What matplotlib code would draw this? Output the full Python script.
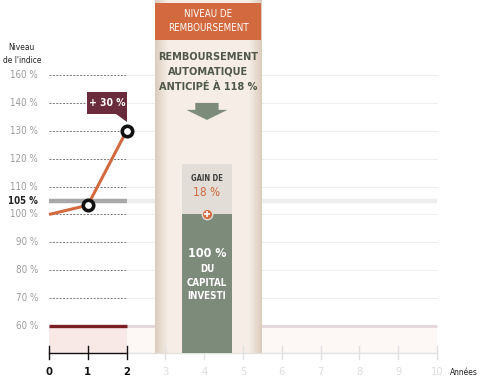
import numpy as np
import matplotlib
matplotlib.use("Agg")
import matplotlib.pyplot as plt
from matplotlib.patches import Rectangle, Polygon

plt.rcParams['font.family'] = ['DejaVu Sans']
plt.rcParams['font.stretch'] = 'condensed'

# data
years = [0, 1, 2]
index_levels = [100, 103.3, 130]
grid_levels = [70, 80, 90, 100, 110, 120, 130, 140, 160]
grid_labels = ['70 %', '80 %', '90 %', '100 %', '110 %', '120 %', '130 %', '140 %', '160 %']
barrier = 60
threshold = 105
early_redemption = 118
capital = 100
gain = early_redemption - capital
all_years = list(range(0, 11))

ORANGE = '#D2693F'
MAROON = '#6A2B3C'
GREEN = '#7D8B7A'
DARKGREEN = '#4E5748'


def pos(v):
    # the axis skips 150 %: 160 % sits one step above 140 %
    return v if v <= 150 else v - 10


fig = plt.figure(figsize=(4.89, 3.79), dpi=100)
ax = fig.add_axes([0, 0, 1, 1])
ax.set_xlim(-1.263, 11.34)
ax.set_ylim(41.0, 176.9)
ax.axis('off')
y_bot = 50.4

# beige band (redemption period)
band_x0, band_x1 = 2.73, 5.47
grad = np.linspace(0, 1, 200)
shade = np.minimum(grad, 1 - grad)
shade = np.clip(shade / 0.12, 0, 1)
c_edge = np.array([0.86, 0.80, 0.74])
c_mid = np.array([0.965, 0.935, 0.905])
img = c_edge[None, :] * (1 - shade[:, None]) + c_mid[None, :] * shade[:, None]
ax.imshow(img[None, :, :], extent=[band_x0, band_x1, y_bot, 176.9],
          aspect='auto', zorder=1)

# pink zone below barrier
ax.add_patch(Rectangle((0, y_bot), 2, barrier - y_bot, color='#F8E8E6', lw=0, zorder=0.5))
ax.add_patch(Rectangle((2, y_bot), 8, barrier - y_bot, color='#FDF7F6', lw=0, zorder=0.5))

# grid lines
for lv, lab in zip(grid_levels, grid_labels):
    p = pos(lv)
    ax.plot([0, 2], [p, p], color='#777777', lw=0.7, ls=(0, (2, 1.5)), zorder=2)
    ax.plot([2, 10], [p, p], color='#EEEEEE', lw=0.7, zorder=0.8)
    ax.text(-0.28, p, lab, ha='right', va='center', fontsize=7, color='#9A9A9A')

# threshold and barrier
ax.plot([0, 2], [threshold, threshold], color='#A8A8A8', lw=3.2, solid_capstyle='butt', zorder=2)
ax.plot([2, 10], [threshold, threshold], color='#EDEDED', lw=3.2, solid_capstyle='butt', zorder=0.8)
ax.text(-0.28, threshold, '105 %', ha='right', va='center', fontsize=7,
        color='#222222', fontweight='bold')
ax.plot([0, 2], [barrier, barrier], color='#7A1E24', lw=2.4, solid_capstyle='butt', zorder=2)
ax.plot([2, 10], [barrier, barrier], color='#E3D6D8', lw=2.0, solid_capstyle='butt', zorder=0.8)
ax.text(-0.28, barrier, '60 %', ha='right', va='center', fontsize=7, color='#9A9A9A')

ax.text(-0.7, 157.5, 'Niveau\nde l\'indice', ha='center', va='center', fontsize=6,
        color='#222222', linespacing=1.5)

# x axis
ax.plot([0, 2], [y_bot, y_bot], color='#111111', lw=1.0, zorder=3)
ax.plot([2, 10], [y_bot, y_bot], color='#E2E2E2', lw=1.0, zorder=3)
for yr in all_years:
    dark = yr <= 2
    ax.plot([yr, yr], [y_bot - 2.3, y_bot + 2.3], color='#111111' if dark else '#E0E0E0',
            lw=1.0, zorder=3)
    ax.text(yr, y_bot - 7, str(yr), ha='center', va='center', fontsize=8,
            fontweight='bold' if dark else 'normal',
            color='#111111' if dark else '#DDDDDD')
ax.text(10.7, y_bot - 7, 'Années', ha='center', va='center', fontsize=6, color='#222222')

# header box
cx = (band_x0 + band_x1) / 2
ax.add_patch(Rectangle((band_x0, 162.6), band_x1 - band_x0, 13.4, color=ORANGE, lw=0, zorder=4))
ax.text(cx, 169.3, 'NIVEAU DE\nREMBOURSEMENT', ha='center', va='center',
        fontsize=7, color='white', linespacing=1.55, zorder=5)
ax.text(cx, 151.1, 'REMBOURSEMENT\nAUTOMATIQUE\nANTICIPÉ À 118 %',
        ha='center', va='center', fontsize=7.8, color=DARKGREEN, fontweight='bold',
        linespacing=1.65, zorder=5)

# arrow
bx = 4.07
ax.add_patch(Polygon([[bx - 0.30, 140.0], [bx + 0.30, 140.0], [bx + 0.30, 137.5],
                      [bx + 0.53, 137.5], [bx, 133.9], [bx - 0.53, 137.5],
                      [bx - 0.30, 137.5]], closed=True, color=GREEN, lw=0, zorder=4))

# gain box and capital bar
bw = 1.27
ax.add_patch(Rectangle((bx - bw / 2, capital), bw, gain, color='#E2DDD7', lw=0, zorder=4))
ax.add_patch(Rectangle((bx - bw / 2, y_bot), bw, capital - y_bot, color=GREEN, lw=0, zorder=4))
ax.text(bx, 112.8, 'GAIN DE', ha='center', va='center', fontsize=5.5, color='#3E3E3E',
        fontweight='bold', zorder=5)
ax.text(bx, 107.8, '%d %%' % gain, ha='center', va='center', fontsize=8.5, color=ORANGE,
        zorder=5)
ax.plot(bx, capital, marker='o', ms=7.5, mfc=ORANGE, mec='#E2DDD7', mew=1.0, zorder=6)
ax.plot(bx, capital, marker='+', ms=4.5, mec='white', mew=1.2, zorder=7)
ax.text(bx, 86.0, '100 %', ha='center', va='center', fontsize=9, color='white',
        fontweight='bold', zorder=5)
ax.text(bx, 75.6, 'DU\nCAPITAL\nINVESTI', ha='center', va='center', fontsize=7,
        color='white', fontweight='bold', linespacing=1.38, zorder=5)

# index path
ax.plot(years, index_levels, color=ORANGE, lw=2.2, zorder=6, solid_capstyle='butt')
ax.plot(years[1:], index_levels[1:], ls='none', marker='o', ms=7.5, mfc='white',
        mec='#111111', mew=2.6, zorder=7)

# +30 % label
ax.add_patch(Rectangle((0.98, 136.0), 1.03, 7.9, color=MAROON, lw=0, zorder=6))
ax.add_patch(Polygon([[1.72, 136.1], [2.0, 136.1], [2.0, 133.3]], closed=True,
                     color=MAROON, lw=0, zorder=6))
ax.text(1.5, 140.0, '+ 30 %', ha='center', va='center', fontsize=7.5, color='white',
        fontweight='bold', zorder=7)

fig.savefig('out.png', dpi=100)
